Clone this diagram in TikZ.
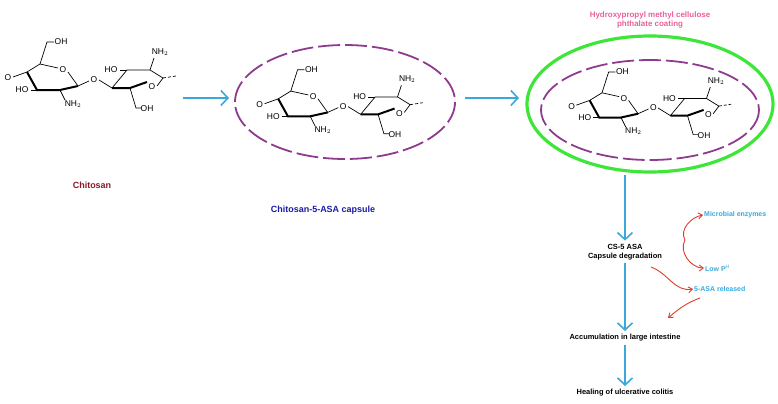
\documentclass[tikz,border=0pt]{standalone}
\usepackage{fontspec}
\setmainfont{Liberation Sans}
\usetikzlibrary{arrows.meta}
\definecolor{flowblue}{HTML}{3AA8DC}
\definecolor{capsule}{HTML}{8E3A8E}
\definecolor{coat}{HTML}{3EE63A}
\definecolor{chitred}{HTML}{8B1A2B}
\definecolor{capblue}{HTML}{1A1AA8}
\definecolor{coatpink}{HTML}{E8609A}
\definecolor{arrred}{HTML}{E03A2A}
\tikzset{
  bond/.style={line width=0.7pt},
  wedge/.style={line width=2pt},
  atom/.style={font=\fontsize{8.5}{8.5}\selectfont, inner sep=0.5pt},
  flow/.style={draw=flowblue, line width=1.8pt, -{Straight Barb[length=7pt,width=15pt,line width=1.6pt]}},
  redarr/.style={draw=arrred, line width=0.9pt, -{Straight Barb[length=4pt,width=6pt]}},
  step text/.style={font=\bfseries\fontsize{7.5}{9}\selectfont, align=center},
  side text/.style={font=\bfseries\fontsize{7}{8}\selectfont, text=flowblue, anchor=west, inner sep=1pt},
  pics/chitosan/.style={code={
    % first ring
    \draw[bond] (27,72) -- (40,64) -- (58,68) (68,72) -- (78,86);
    \node[atom] (o5) at (63,70) {O};
    \draw[wedge] (27,72) -- (37,90) -- (60,90) -- (78,86);
    \draw[bond] (40,64) -- (47,42) -- (54,42);
    \node[atom,anchor=west] at (54,42) {OH};
    \draw[bond] (27,72) -- (13,77);
    \node[atom] at (8,78) {O};
    \draw[bond] (37,90) -- (31,90);
    \node[atom] at (22,90) {HO};
    \draw[bond] (60,90) -- (65,100);
    \node[atom] at (73,104) {NH$_2$};
    \draw[bond] (78,86) -- (89,81);
    \node[atom] at (94,80) {O};
    % second ring
    \draw[bond] (99,80) -- (112,88);
    \draw[wedge] (112,88) -- (130,88) -- (147,82);
    \draw[bond] (112,88) -- (127,70) -- (150,70) -- (163,78) -- (157,86);
    \node[atom] at (152,87) {O};
    \draw[bond] (127,70) -- (120,70);
    \node[atom] at (111,70) {HO};
    \draw[bond] (150,70) -- (154,58);
    \node[atom] at (160,52) {NH$_2$};
    \draw[bond, densely dashed] (163,78) -- (176,76);
    \draw[bond] (130,88) -- (136,108) -- (141,108);
    \node[atom,anchor=west] at (140,109) {OH};
  }}
}
\begin{document}
\begin{tikzpicture}[x=1bp,y=-1bp]
  \useasboundingbox (0,0) rectangle (778,403);
  % the three stages
  \pic at (0,0) {chitosan};
  \draw[capsule, line width=1.8pt, dash pattern=on 22pt off 5pt] (345,102) ellipse [x radius=110, y radius=57];
  \pic[scale=0.97] at (252,29) {chitosan};
  \draw[coat, line width=3.2pt] (650,104) ellipse [x radius=123, y radius=68];
  \draw[capsule, line width=1.8pt, dash pattern=on 22pt off 5pt] (650,110) ellipse [x radius=109, y radius=50];
  \pic[scale=0.95] at (564,32) {chitosan};
  \node (lchit) [font=\bfseries\fontsize{9}{10}\selectfont, text=chitred] at (92,185) {Chitosan};
  \node (lcap) [font=\bfseries\fontsize{9}{10}\selectfont, text=capblue] at (323,210) {Chitosan-5-ASA capsule};
  \node (lcoat) [font=\bfseries\fontsize{8}{9.5}\selectfont, text=coatpink, align=center] at (650,20) {Hydroxypropyl methyl cellulose\\phthalate coating};
  \coordinate (s1) at (183,98);
  \coordinate (s2) at (229,98);
  \coordinate (s3) at (465,98);
  \coordinate (s4) at (519,98);
  \draw[flow] (s1) -- (s2);
  \draw[flow] (s3) -- (s4);
  % flow below the capsule
  \coordinate (top) at (625,175);
  \node (deg) [step text] at (625,252) {CS-5 ASA\\Capsule degradation};
  \node (acc) [step text] at (625,338) {Accumulation in large intestine};
  \node (heal) [step text] at (625,393) {Healing of ulcerative colitis};
  \draw[flow] (top) -- (deg.north);
  \draw[flow] (deg.south) -- (acc.north);
  \draw[flow] (acc.south) -- (heal.north);
  \node (enz) [side text] at (703,215) {Microbial enzymes};
  \node (ph) [side text] at (704,268) {Low P$^{\mathrm{H}}$};
  \node (rel) [side text] at (693,289) {5-ASA released};
  \draw[redarr] (685,240) to[out=120,in=190,looseness=1] (enz.west);
  \draw[redarr] (685,240) to[out=240,in=180,looseness=1] (ph.west);
  \draw[redarr] (651,267) to[out=-20,in=190] (rel.west);
  \draw[redarr] (700,298) to[out=200,in=40] (668,318);
\end{tikzpicture}
\end{document}
